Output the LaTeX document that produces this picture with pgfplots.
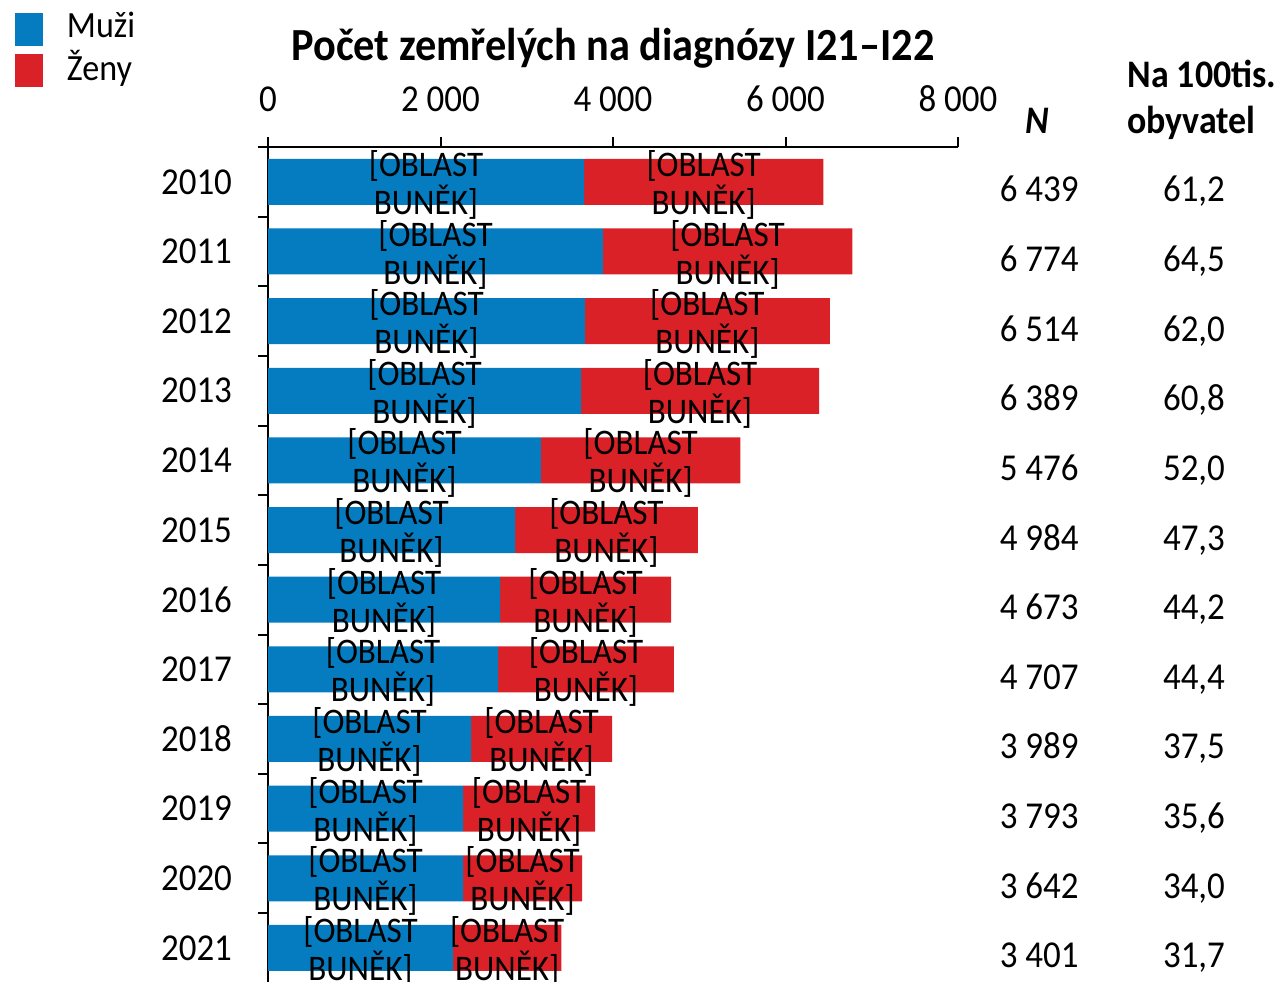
\documentclass[border=0pt]{standalone}
\usepackage{fontspec}
\setmainfont{Carlito}[FakeStretch=0.92]
\usepackage{pgfplots}
\pgfplotsset{compat=1.18}
\definecolor{muzi}{RGB}{5,123,192}
\definecolor{zeny}{RGB}{218,33,40}

\begin{document}
\begin{tikzpicture}
\path[use as bounding box] (0pt,0pt) rectangle (642pt,-490.5pt);
\begin{axis}[
  at={(134pt,-73.5pt)}, anchor=north west,
  scale only axis, width=345pt, height=417.86pt,
  xmin=0, xmax=8000, ymin=-0.5, ymax=11.5,
  axis x line=top, axis y line=left,
  axis line style={-, black, line width=1pt},
  every outer x axis line/.append style={-},
  every outer y axis line/.append style={-},
  tick align=outside, major tick length=5pt,
  tick style={black, line width=1pt},
  xtick={0,2000,4000,6000,8000},
  xticklabels={0,2 000,4 000,6 000,8 000},
  xticklabel style={yshift=9pt},
  ytick={-0.5,0.5,1.5,2.5,3.5,4.5,5.5,6.5,7.5,8.5,9.5,10.5,11.5},
  yticklabels={},
  extra y ticks={0,1,2,3,4,5,6,7,8,9,10,11},
  extra y tick labels={2021,2020,2019,2018,2017,2016,2015,2014,2013,2012,2011,2010},
  extra y tick style={major tick length=0pt, yticklabel style={xshift=-14.5pt}},
  tick label style={font=\fontsize{19}{22}\selectfont},
  xbar stacked, bar width=0.6605,
  clip=false,
  title={Počet zemřelých na diagnózy I21–I22},
  title style={at={(axis description cs:0.5,1.104)}, anchor=center, font=\bfseries\fontsize{23}{26}\selectfont},
  legend image code/.code={\fill[#1] (0pt,-9.9pt) rectangle (14pt,6.6pt);},
  legend cell align=left,
  legend style={draw=none, fill=none, inner sep=0pt, outer sep=0pt,
    at={(axis description cs:-0.3667,1.1620)}, anchor=north west,
    font=\fontsize{18.5}{22}\selectfont, row sep=2.5pt, column sep=12pt,
    nodes={inner sep=0pt}},
]
\addplot[fill=muzi, draw=none] coordinates {
 (3664,11) (3884,10) (3675,9) (3629,8) (3165,7) (2864,6)
 (2690,5) (2667,4) (2354,3) (2261,2) (2261,1) (2145,0)};
\addplot[fill=zeny, draw=none] coordinates {
 (2775,11) (2890,10) (2839,9) (2760,8) (2311,7) (2120,6)
 (1983,5) (2040,4) (1635,3) (1532,2) (1381,1) (1256,0)};
\legend{Muži,Ženy}
\end{axis}
\begin{axis}[
  at={(134pt,-73.5pt)}, anchor=north west,
  scale only axis, width=345pt, height=417.86pt,
  xmin=0, xmax=8000, ymin=-0.5, ymax=11.5,
  hide axis, clip=false,
]
\addplot[draw=none, mark=none, point meta=x,
  nodes near coords={{[}OBLAST\\BUNĚK{]}},
  nodes near coords style={anchor=center, align=center, inner sep=0pt, yshift=-1.5pt,
    font=\fontsize{18}{19}\selectfont}] coordinates {
 (1832,11) (1942,10) (1837.5,9) (1814.5,8) (1582.5,7) (1432,6)
 (1345,5) (1333.5,4) (1177,3) (1130.5,2) (1130.5,1) (1072.5,0)
 (5051.5,11) (5329,10) (5094.5,9) (5009,8) (4320.5,7) (3924,6)
 (3681.5,5) (3687,4) (3171.5,3) (3027,2) (2951.5,1) (2773,0)};
\addplot[draw=none, mark=none, point meta=explicit symbolic,
  nodes near coords,
  nodes near coords style={anchor=base east, inner sep=0pt, yshift=-10pt,
    font=\fontsize{19}{22}\selectfont}] coordinates {
 (9403,11) [6 439] (9403,10) [6 774] (9403,9) [6 514] (9403,8) [6 389]
 (9403,7) [5 476] (9403,6) [4 984] (9403,5) [4 673] (9403,4) [4 707]
 (9403,3) [3 989] (9403,2) [3 793] (9403,1) [3 642] (9403,0) [3 401]};
\addplot[draw=none, mark=none, point meta=explicit symbolic,
  nodes near coords,
  nodes near coords style={anchor=base, inner sep=0pt, yshift=-10pt,
    font=\fontsize{19}{22}\selectfont}] coordinates {
 (10736,11) [61,2] (10736,10) [64,5] (10736,9) [62,0] (10736,8) [60,8]
 (10736,7) [52,0] (10736,6) [47,3] (10736,5) [44,2] (10736,4) [44,4]
 (10736,3) [37,5] (10736,2) [35,6] (10736,1) [34,0] (10736,0) [31,7]};
\node[anchor=base, inner sep=0pt, font=\bfseries\itshape\fontsize{19.5}{22}\selectfont] at (axis cs:8916,11.70) {N};
\node[anchor=base west, inner sep=0pt, font=\bfseries\fontsize{19.5}{22}\selectfont] at (axis cs:9959,12.35) {Na 100tis.};
\node[anchor=base west, inner sep=0pt, font=\bfseries\fontsize{19.5}{22}\selectfont] at (axis cs:9959,11.70) {obyvatel};
\end{axis}
\end{tikzpicture}
\end{document}
